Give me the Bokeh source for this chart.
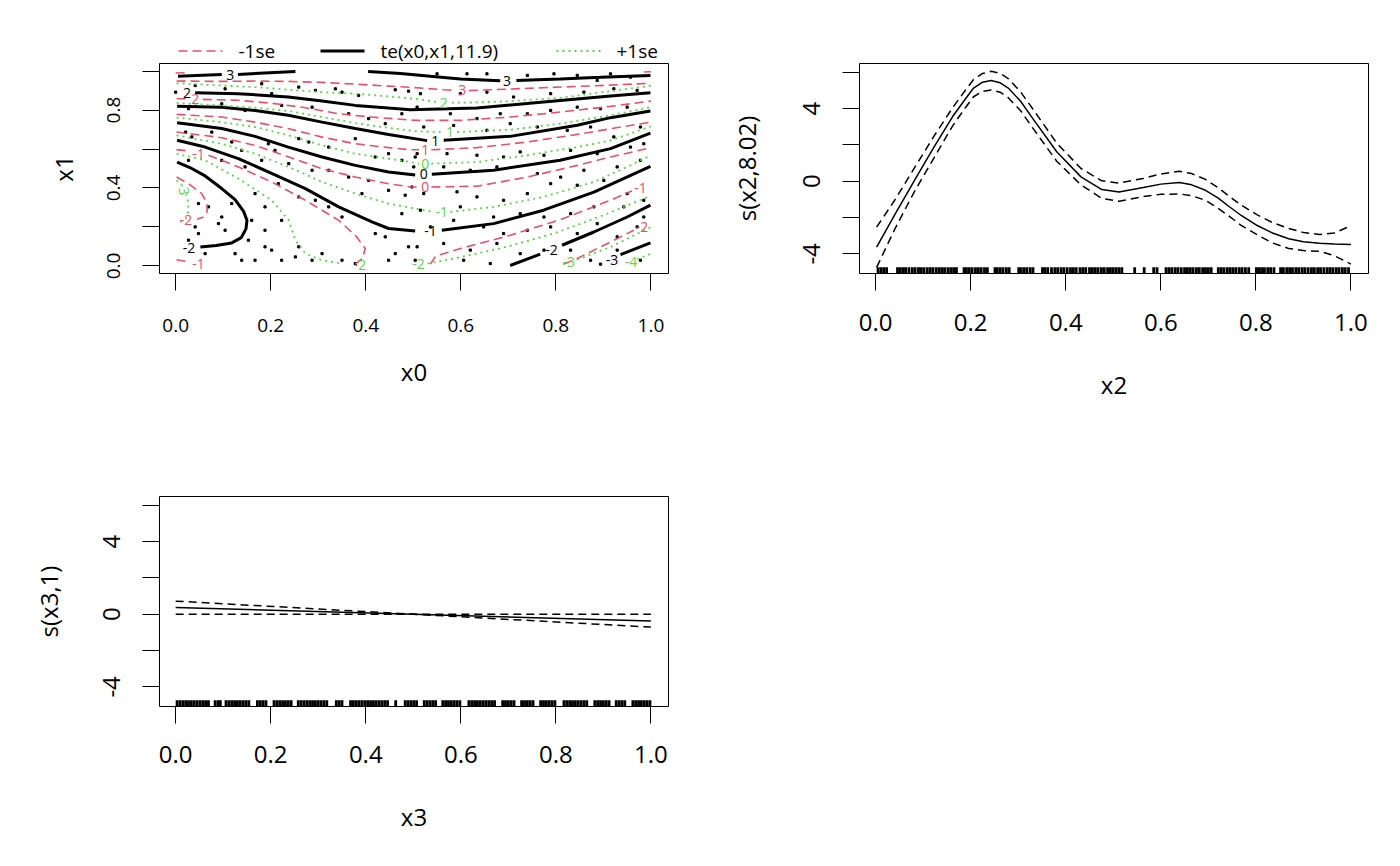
from bokeh.plotting import figure
from bokeh.models import Range1d, FixedTicker
from bokeh.layouts import column, row
from bokeh.embed import file_html
from bokeh.resources import INLINE
from bokeh.core.properties import value

FONT = "Open Sans"
RED = "#DF536B"
GREEN = "#61D04F"

# ---- panel 1: te(x0,x1) contours ----
# fitted surface (black, solid)
te_3a_x = [0.005, 0.097]
te_3a_y = [0.973, 0.982]
te_3b_x = [0.131, 0.252]
te_3b_y = [0.983, 0.998]
te_3c_x = [0.405, 0.473, 0.536, 0.599, 0.683]
te_3c_y = [0.998, 0.988, 0.973, 0.960, 0.950]
te_3d_x = [0.717, 0.809, 0.894, 0.999]
te_3d_y = [0.952, 0.960, 0.968, 0.978]
te_2_x = [0.041, 0.132, 0.237, 0.308, 0.378, 0.448, 0.494, 0.634, 0.774, 0.915, 0.999]
te_2_y = [0.889, 0.884, 0.867, 0.846, 0.824, 0.810, 0.802, 0.810, 0.841, 0.872, 0.889]
te_1a_x = [0.003, 0.097, 0.167, 0.237, 0.308, 0.378, 0.448, 0.529]
te_1a_y = [0.819, 0.815, 0.798, 0.773, 0.738, 0.705, 0.675, 0.643]
te_1b_x = [0.564, 0.704, 0.845, 0.915, 0.999]
te_1b_y = [0.645, 0.665, 0.722, 0.761, 0.795]
te_0a_x = [0.003, 0.097, 0.167, 0.237, 0.308, 0.378, 0.448, 0.504]
te_0a_y = [0.735, 0.705, 0.665, 0.610, 0.559, 0.516, 0.482, 0.467]
te_0b_x = [0.539, 0.669, 0.809, 0.915, 0.999]
te_0b_y = [0.470, 0.491, 0.542, 0.602, 0.682]
te_m1a_x = [0.003, 0.062, 0.132, 0.203, 0.273, 0.343, 0.413, 0.448, 0.504]
te_m1a_y = [0.645, 0.610, 0.551, 0.474, 0.397, 0.303, 0.226, 0.192, 0.179]
te_m1b_x = [0.560, 0.669, 0.774, 0.880, 0.999]
te_m1b_y = [0.183, 0.217, 0.286, 0.379, 0.511]
te_m2a_x = [0.003, 0.030, 0.060, 0.097, 0.125, 0.143, 0.150, 0.148, 0.138, 0.118, 0.085, 0.052]
te_m2a_y = [0.533, 0.505, 0.465, 0.397, 0.340, 0.280, 0.234, 0.190, 0.145, 0.118, 0.105, 0.097]
te_m2b_x = [0.704, 0.767]
te_m2b_y = [0.002, 0.060]
te_m2c_x = [0.813, 0.880, 0.950, 0.999]
te_m2c_y = [0.106, 0.174, 0.251, 0.312]
te_m3_x = [0.936, 0.999]
te_m3_y = [0.058, 0.118]
te_lab_x = [0.115, 0.697, 0.024, 0.546, 0.522, 0.536, 0.028, 0.791, 0.918]
te_lab_y = [0.978, 0.949, 0.889, 0.643, 0.470, 0.179, 0.091, 0.080, 0.029]
te_lab_t = ["3", "3", "2", "1", "0", "-1", "-2", "-2", "-3"]

# -1se surface (red, dashed)
lo_4a_x = [0.0, 0.025]
lo_4a_y = [0.990, 0.992]
lo_4b_x = [0.985, 1.0]
lo_4b_y = [0.995, 0.997]
lo_3a_x = [0.002, 0.097, 0.167, 0.238, 0.308, 0.378, 0.448, 0.504, 0.564, 0.590]
lo_3a_y = [0.949, 0.947, 0.949, 0.947, 0.942, 0.933, 0.923, 0.915, 0.904, 0.901]
lo_3b_x = [0.617, 0.704, 0.810, 0.915, 1.0]
lo_3b_y = [0.900, 0.908, 0.918, 0.928, 0.938]
lo_2a_x = [0.002, 0.025]
lo_2a_y = [0.858, 0.858]
lo_2b_x = [0.057, 0.132, 0.202, 0.273, 0.343, 0.413, 0.504, 0.599, 0.704, 0.810, 0.915, 1.0]
lo_2b_y = [0.855, 0.850, 0.835, 0.812, 0.781, 0.764, 0.747, 0.747, 0.764, 0.790, 0.819, 0.846]
lo_1a_x = [0.002, 0.097, 0.167, 0.238, 0.308, 0.378, 0.448, 0.494, 0.512]
lo_1a_y = [0.778, 0.764, 0.738, 0.704, 0.661, 0.627, 0.607, 0.596, 0.596]
lo_1b_x = [0.538, 0.634, 0.740, 0.845, 0.915, 1.0]
lo_1b_y = [0.596, 0.607, 0.636, 0.675, 0.704, 0.738]
lo_0a_x = [0.002, 0.097, 0.167, 0.238, 0.308, 0.378, 0.448, 0.494, 0.512]
lo_0a_y = [0.687, 0.658, 0.619, 0.559, 0.499, 0.456, 0.422, 0.405, 0.405]
lo_0b_x = [0.538, 0.634, 0.740, 0.845, 0.915, 1.0]
lo_0b_y = [0.405, 0.409, 0.456, 0.516, 0.559, 0.607]
lo_m1a_x = [0.002, 0.027]
lo_m1a_y = [0.597, 0.590]
lo_m1b_x = [0.069, 0.132, 0.202, 0.273, 0.343, 0.378, 0.399, 0.393, 0.378]
lo_m1b_y = [0.568, 0.508, 0.431, 0.337, 0.234, 0.157, 0.089, 0.038, 0.009]
lo_m1c_x = [0.536, 0.547, 0.599, 0.704, 0.810, 0.915, 0.960]
lo_m1c_y = [0.009, 0.050, 0.089, 0.157, 0.238, 0.337, 0.385]
lo_m1d_x = [0.002, 0.027]
lo_m1d_y = [0.032, 0.021]
lo_m2a_x = [0.002, 0.027, 0.055, 0.066, 0.066, 0.059, 0.045]
lo_m2a_y = [0.456, 0.422, 0.371, 0.320, 0.277, 0.251, 0.240]
lo_m2b_x = [0.816, 0.845, 0.915, 0.964]
lo_m2b_y = [0.009, 0.038, 0.123, 0.183]
lo_lab_x = [0.603, 0.041, 0.525, 0.525, 0.048, 0.978, 0.022, 0.981, 0.048]
lo_lab_y = [0.901, 0.855, 0.596, 0.405, 0.576, 0.400, 0.238, 0.200, 0.012]
lo_lab_t = ["3", "2", "1", "0", "-1", "-1", "-2", "-2", "-1"]

# +1se surface (green, dotted)
hi_2a_x = [0.002, 0.097, 0.167, 0.238, 0.308, 0.378, 0.448, 0.504, 0.550]
hi_2a_y = [0.938, 0.926, 0.918, 0.904, 0.892, 0.884, 0.870, 0.858, 0.841]
hi_2b_x = [0.581, 0.634, 0.704, 0.810, 0.915, 1.0]
hi_2b_y = [0.838, 0.839, 0.846, 0.863, 0.897, 0.925]
hi_1a_x = [0.002, 0.097, 0.167, 0.238, 0.308, 0.378, 0.448, 0.504, 0.564]
hi_1a_y = [0.836, 0.824, 0.812, 0.795, 0.764, 0.733, 0.708, 0.692, 0.687]
hi_1b_x = [0.592, 0.704, 0.810, 0.915, 1.0]
hi_1b_y = [0.687, 0.699, 0.730, 0.773, 0.815]
hi_0a_x = [0.002, 0.097, 0.167, 0.238, 0.308, 0.378, 0.448, 0.494, 0.512]
hi_0a_y = [0.761, 0.738, 0.713, 0.670, 0.619, 0.576, 0.550, 0.533, 0.525]
hi_0b_x = [0.538, 0.634, 0.740, 0.845, 0.915, 1.0]
hi_0b_y = [0.525, 0.533, 0.568, 0.610, 0.644, 0.716]
hi_m1a_x = [0.002, 0.097, 0.167, 0.238, 0.308, 0.378, 0.448, 0.504, 0.543]
hi_m1a_y = [0.670, 0.627, 0.576, 0.508, 0.431, 0.371, 0.320, 0.294, 0.277]
hi_m1b_x = [0.578, 0.669, 0.774, 0.880, 0.950, 1.0]
hi_m1b_y = [0.277, 0.303, 0.354, 0.431, 0.508, 0.568]
hi_m2a_x = [0.002, 0.062, 0.132, 0.202, 0.238, 0.252, 0.273, 0.308, 0.350]
hi_m2a_y = [0.576, 0.542, 0.448, 0.337, 0.234, 0.132, 0.063, 0.029, 0.012]
hi_m2b_x = [0.530, 0.600, 0.700, 0.800, 0.900, 1.0]
hi_m2b_y = [0.012, 0.045, 0.100, 0.170, 0.260, 0.360]
hi_m3a_x = [0.002, 0.012]
hi_m3a_y = [0.440, 0.415]
hi_m3b_x = [0.022, 0.026, 0.027, 0.022, 0.010, 0.002]
hi_m3b_y = [0.370, 0.330, 0.280, 0.245, 0.225, 0.220]
hi_m3c_x = [0.845, 0.915, 1.0]
hi_m3c_y = [0.032, 0.097, 0.200]
hi_m4_x = [0.971, 1.0]
hi_m4_y = [0.034, 0.063]
hi_lab_x = [0.564, 0.577, 0.525, 0.560, 0.388, 0.511, 0.827, 0.958]
hi_lab_y = [0.838, 0.687, 0.525, 0.277, 0.005, 0.009, 0.020, 0.020]
hi_lab_t = ["2", "1", "0", "-1", "-2", "-2", "-3", "-4"]
hi_rot_x = [0.017]
hi_rot_y = [0.395]
hi_rot_t = ["-3"]

# observed (x0, x1) covariate locations
obs_x0 = [0.041, 0.104, 0.181, 0.202, 0.259, 0.294, 0.336, 0.350, 0.385, 0.462, 0.490,
          0.027, 0.097, 0.146, 0.223, 0.287, 0.364, 0.406, 0.441, 0.476, 0.021, 0.034,
          0.076, 0.118, 0.139, 0.195, 0.209, 0.259, 0.280, 0.322, 0.378, 0.420, 0.448,
          0.476, 0.504, 0.027, 0.097, 0.146, 0.181, 0.238, 0.287, 0.322, 0.364, 0.406,
          0.448, 0.483, 0.497, 0.048, 0.069, 0.097, 0.118, 0.167, 0.188, 0.223, 0.216,
          0.259, 0.294, 0.322, 0.350, 0.392, 0.420, 0.441, 0.462, 0.476, 0.041, 0.048,
          0.090, 0.104, 0.153, 0.188, 0.202, 0.125, 0.139, 0.167, 0.223, 0.252, 0.259,
          0.287, 0.308, 0.350, 0.378, 0.448, 0.490, 0.504, 0.062, 0.027, 0.160, 0.188,
          0.0,
          0.550, 0.613, 0.655, 0.740, 0.796, 0.845, 0.887, 0.915, 0.957, 0.515, 0.599,
          0.655, 0.711, 0.789, 0.859, 0.922, 0.971, 0.508, 0.578, 0.634, 0.683, 0.740,
          0.789, 0.845, 0.894, 0.950, 0.978, 0.522, 0.585, 0.655, 0.704, 0.761, 0.824,
          0.873, 0.922, 0.985, 0.508, 0.571, 0.634, 0.690, 0.725, 0.775, 0.831, 0.887,
          0.957, 0.978, 0.501, 0.564, 0.620, 0.676, 0.761, 0.810, 0.859, 0.929, 0.522,
          0.592, 0.634, 0.690, 0.740, 0.789, 0.845, 0.901, 0.950, 0.985, 0.515, 0.599,
          0.669, 0.725, 0.775, 0.831, 0.880, 0.943, 0.985, 0.536, 0.585, 0.648, 0.690,
          0.740, 0.789, 0.845, 0.887, 0.929, 0.971, 0.508, 0.564, 0.620, 0.676, 0.725,
          0.775, 0.831, 0.873, 0.894, 0.929, 0.978, 0.606, 0.662]
obs_x1 = [0.926, 0.909, 0.935, 0.884, 0.918, 0.901, 0.909, 0.892, 0.875, 0.904, 0.897,
          0.807, 0.832, 0.798, 0.824, 0.815, 0.781, 0.756, 0.730, 0.781, 0.687, 0.662,
          0.687, 0.636, 0.593, 0.627, 0.593, 0.653, 0.636, 0.610, 0.653, 0.559, 0.576,
          0.542, 0.559, 0.542, 0.542, 0.508, 0.542, 0.525, 0.491, 0.491, 0.456, 0.439,
          0.388, 0.363, 0.405, 0.320, 0.303, 0.251, 0.320, 0.371, 0.303, 0.234, 0.422,
          0.354, 0.337, 0.303, 0.251, 0.371, 0.166, 0.149, 0.063, 0.268, 0.200, 0.166,
          0.217, 0.183, 0.132, 0.098, 0.081, 0.063, 0.029, 0.029, 0.029, 0.046, 0.098,
          0.029, 0.063, 0.029, 0.012, 0.029, 0.098, 0.029, 0.063, 0.132, 0.234, 0.183,
          0.892,
          0.986, 0.986, 0.986, 0.978, 0.986, 0.978, 0.952, 0.986, 0.969, 0.884, 0.884,
          0.892, 0.867, 0.884, 0.892, 0.909, 0.901, 0.815, 0.781, 0.756, 0.781, 0.781,
          0.798, 0.815, 0.807, 0.815, 0.713, 0.713, 0.721, 0.696, 0.730, 0.713, 0.696,
          0.713, 0.662, 0.627, 0.576, 0.576, 0.568, 0.559, 0.585, 0.568, 0.593, 0.576,
          0.610, 0.542, 0.508, 0.508, 0.491, 0.508, 0.474, 0.456, 0.491, 0.508, 0.371,
          0.380, 0.354, 0.337, 0.371, 0.422, 0.414, 0.439, 0.371, 0.337, 0.286, 0.303,
          0.251, 0.268, 0.251, 0.268, 0.303, 0.303, 0.251, 0.200, 0.234, 0.200, 0.166,
          0.183, 0.200, 0.166, 0.217, 0.149, 0.200, 0.098, 0.115, 0.081, 0.115, 0.063,
          0.081, 0.081, 0.029, 0.009, 0.081, 0.029, 0.029, 0.012]

# ---- panel 2: s(x2, 8.02) ----
x2_grid = [0.002, 0.040, 0.082, 0.122, 0.162, 0.188, 0.206, 0.225, 0.243, 0.262, 0.279,
           0.305, 0.330, 0.381, 0.432, 0.476, 0.512, 0.563, 0.600, 0.639, 0.665, 0.694,
           0.720, 0.745, 0.770, 0.803, 0.835, 0.869, 0.900, 0.934, 0.965, 1.0]
s2_fit = [-3.63, -1.85, 0.06, 1.85, 3.56, 4.50, 5.13, 5.45, 5.54, 5.42, 5.13,
          4.40, 3.47, 1.62, 0.24, -0.46, -0.59, -0.35, -0.16, -0.07, -0.20, -0.50,
          -0.92, -1.42, -1.90, -2.44, -2.85, -3.17, -3.33, -3.41, -3.46, -3.49]
s2_upper = [-2.53, -1.05, 0.75, 2.45, 4.05, 4.98, 5.60, 5.93, 6.05, 5.93, 5.65,
            4.92, 4.00, 2.10, 0.70, 0.02, -0.10, 0.15, 0.40, 0.55, 0.42, 0.10,
            -0.35, -0.85, -1.33, -1.85, -2.28, -2.60, -2.82, -2.93, -2.85, -2.45]
s2_lower = [-4.74, -2.65, -0.55, 1.25, 3.05, 4.02, 4.65, 4.95, 5.02, 4.90, 4.60,
            3.88, 2.95, 1.10, -0.20, -0.95, -1.10, -0.85, -0.72, -0.70, -0.80, -1.05,
            -1.48, -1.95, -2.45, -2.95, -3.40, -3.70, -3.82, -3.86, -4.10, -4.56]
x2_rug = [0.005, 0.011, 0.017, 0.023, 0.046, 0.052, 0.058, 0.063, 0.070, 0.077, 0.083,
          0.090, 0.095, 0.101, 0.108, 0.114, 0.120, 0.127, 0.133, 0.139, 0.145, 0.152,
          0.158, 0.164, 0.170, 0.186, 0.191, 0.197, 0.203, 0.210, 0.216, 0.222, 0.229,
          0.235, 0.251, 0.256, 0.262, 0.268, 0.275, 0.281, 0.301, 0.306, 0.312, 0.318,
          0.325, 0.331, 0.351, 0.356, 0.362, 0.370, 0.377, 0.383, 0.390, 0.396, 0.403,
          0.410, 0.416, 0.422, 0.430, 0.436, 0.442, 0.450, 0.456, 0.462, 0.468, 0.475,
          0.481, 0.488, 0.494, 0.500, 0.506, 0.512, 0.518, 0.545, 0.565, 0.585, 0.592,
          0.611, 0.617, 0.623, 0.630, 0.636, 0.643, 0.650, 0.656, 0.662, 0.668, 0.675,
          0.681, 0.688, 0.694, 0.700, 0.706, 0.721, 0.727, 0.733, 0.740, 0.746, 0.752,
          0.758, 0.765, 0.771, 0.778, 0.785, 0.801, 0.806, 0.812, 0.818, 0.825, 0.831,
          0.838, 0.852, 0.858, 0.865, 0.871, 0.877, 0.884, 0.890, 0.897, 0.903, 0.910,
          0.917, 0.923, 0.930, 0.936, 0.943, 0.950, 0.956, 0.962, 0.969, 0.975, 0.982,
          0.988, 0.995]

# ---- panel 3: s(x3, 1) ----
x3_grid = [0.0, 0.5, 1.0]
s3_fit = [0.37, 0.0, -0.37]
s3_upper = [0.72, 0.0, 0.0]
s3_lower = [0.0, 0.0, -0.71]
x3_rug = [0.003, 0.009, 0.015, 0.021, 0.027, 0.033, 0.039, 0.045, 0.051, 0.057, 0.063,
          0.069, 0.083, 0.089, 0.094, 0.106, 0.112, 0.118, 0.124, 0.130, 0.136, 0.142,
          0.148, 0.154, 0.172, 0.178, 0.184, 0.190, 0.207, 0.213, 0.219, 0.225, 0.231,
          0.237, 0.243, 0.258, 0.264, 0.270, 0.276, 0.282, 0.288, 0.294, 0.300, 0.306,
          0.312, 0.318, 0.338, 0.344, 0.350, 0.368, 0.374, 0.380, 0.386, 0.392, 0.398,
          0.404, 0.410, 0.416, 0.422, 0.428, 0.434, 0.440, 0.446, 0.463, 0.483, 0.489,
          0.495, 0.501, 0.507, 0.523, 0.529, 0.535, 0.541, 0.547, 0.562, 0.568, 0.574,
          0.580, 0.586, 0.592, 0.598, 0.617, 0.623, 0.629, 0.635, 0.641, 0.647, 0.653,
          0.659, 0.665, 0.671, 0.688, 0.694, 0.700, 0.706, 0.712, 0.728, 0.734, 0.740,
          0.746, 0.752, 0.768, 0.774, 0.780, 0.786, 0.792, 0.798, 0.817, 0.823, 0.829,
          0.835, 0.841, 0.847, 0.853, 0.859, 0.865, 0.882, 0.888, 0.894, 0.900, 0.906,
          0.912, 0.927, 0.933, 0.939, 0.945, 0.962, 0.968, 0.974, 0.980, 0.986, 0.992,
          0.998]

unit_ticks = [0.0, 0.2, 0.4, 0.6, 0.8, 1.0]
unit_x_labels = ["0.0", "0.2", "0.4", "0.6", "0.8", "1.0"]
unit_y_labels = ["0.0", "", "0.4", "", "0.8", ""]
s_ticks = [-4, -2, 0, 2, 4, 6]
s_labels = ["-4", "", "0", "", "4", ""]
legend_labels = ["-1se", "te(x0,x1,11.9)", "+1se"]

X_LO, X_HI = -0.034, 1.037
S_LO, S_HI = -5.08, 6.48


def make_fig(height, left, right, top, bottom, y_lo, y_hi):
    p = figure(width=692, height=height, title=None, output_backend="svg",
               toolbar_location=None, x_range=Range1d(X_LO, X_HI),
               y_range=Range1d(y_lo, y_hi),
               min_border_left=left, min_border_right=right,
               min_border_top=top, min_border_bottom=bottom)
    p.grid.visible = False
    p.outline_line_color = "black"
    p.outline_line_width = 1
    p.outline_line_alpha = 1
    return p


def style_axis(ax, ticks, labels, tick_size, title, label_standoff, title_standoff):
    ax.ticker = FixedTicker(ticks=ticks)
    ax.major_label_overrides = {t: l for t, l in zip(ticks, labels)}
    ax.minor_tick_line_color = None
    ax.axis_line_color = None
    ax.major_tick_in = 0
    ax.major_tick_out = 17
    ax.major_tick_line_width = 1
    ax.major_tick_line_color = "black"
    ax.major_label_text_font = FONT
    ax.major_label_text_font_size = tick_size
    ax.major_label_text_color = "black"
    ax.major_label_standoff = label_standoff
    ax.axis_label = title
    ax.axis_label_text_font = FONT
    ax.axis_label_text_font_size = "24px"
    ax.axis_label_text_font_style = "normal"
    ax.axis_label_text_color = "black"
    ax.axis_label_standoff = title_standoff


# ---------------- panel 1 ----------------
p1 = make_fig(362, 159, 24, 0, 152, -0.039, 1.039)
style_axis(p1.xaxis[0], unit_ticks, unit_x_labels, "19px", "x0", 28, 20)
style_axis(p1.yaxis[0], unit_ticks, unit_y_labels, "19px", "x1", 22, 25)
p1.yaxis.major_label_orientation = "vertical"

p1.scatter(obs_x0, obs_x1, marker="square", size=2.2, color="black")

te_xs = [te_3a_x, te_3b_x, te_3c_x, te_3d_x, te_2_x, te_1a_x, te_1b_x, te_0a_x, te_0b_x,
         te_m1a_x, te_m1b_x, te_m2a_x, te_m2b_x, te_m2c_x, te_m3_x]
te_ys = [te_3a_y, te_3b_y, te_3c_y, te_3d_y, te_2_y, te_1a_y, te_1b_y, te_0a_y, te_0b_y,
         te_m1a_y, te_m1b_y, te_m2a_y, te_m2b_y, te_m2c_y, te_m3_y]
lo_xs = [lo_4a_x, lo_4b_x, lo_3a_x, lo_3b_x, lo_2a_x, lo_2b_x, lo_1a_x, lo_1b_x, lo_0a_x,
         lo_0b_x, lo_m1a_x, lo_m1b_x, lo_m1c_x, lo_m1d_x, lo_m2a_x, lo_m2b_x]
lo_ys = [lo_4a_y, lo_4b_y, lo_3a_y, lo_3b_y, lo_2a_y, lo_2b_y, lo_1a_y, lo_1b_y, lo_0a_y,
         lo_0b_y, lo_m1a_y, lo_m1b_y, lo_m1c_y, lo_m1d_y, lo_m2a_y, lo_m2b_y]
hi_xs = [hi_2a_x, hi_2b_x, hi_1a_x, hi_1b_x, hi_0a_x, hi_0b_x, hi_m1a_x, hi_m1b_x,
         hi_m2a_x, hi_m2b_x, hi_m3a_x, hi_m3b_x, hi_m3c_x, hi_m4_x]
hi_ys = [hi_2a_y, hi_2b_y, hi_1a_y, hi_1b_y, hi_0a_y, hi_0b_y, hi_m1a_y, hi_m1b_y,
         hi_m2a_y, hi_m2b_y, hi_m3a_y, hi_m3b_y, hi_m3c_y, hi_m4_y]

TE_STYLE = dict(line_color="black", line_width=3)
LO_STYLE = dict(line_color=RED, line_width=1.6, line_dash="9 5")
HI_STYLE = dict(line_color=GREEN, line_width=1.8, line_dash="2 4")
STYLES = [LO_STYLE, TE_STYLE, HI_STYLE]

p1.multi_line(te_xs, te_ys, **TE_STYLE)
p1.multi_line(lo_xs, lo_ys, **LO_STYLE)
p1.multi_line(hi_xs, hi_ys, **HI_STYLE)

lab_kw = dict(text_font=value(FONT), text_font_size="14px", text_align="center",
              text_baseline="middle")
p1.text(te_lab_x, te_lab_y, text=te_lab_t, text_color="black", **lab_kw)
p1.text(lo_lab_x, lo_lab_y, text=lo_lab_t, text_color=RED, **lab_kw)
p1.text(hi_lab_x, hi_lab_y, text=hi_lab_t, text_color=GREEN, **lab_kw)
p1.text(hi_rot_x, hi_rot_y, text=hi_rot_t, text_color=GREEN, angle=-1.4, **lab_kw)

# legend strip above panel 1 (R draws it in the top margin).
# Its frame lines up with panel 1's frame; the ranges are in page pixels.
leg = figure(width=692, height=63, output_backend="svg", toolbar_location=None,
             title=None, x_axis_location=None, y_axis_location=None,
             x_range=Range1d(159, 668), y_range=Range1d(0, 63),
             min_border_left=159, min_border_right=24,
             min_border_top=0, min_border_bottom=0)
leg.grid.visible = False
leg.outline_line_color = None
key_start = [178, 320, 556]
key_len = 44
row_y = 12.5
for x0, lab, st in zip(key_start, legend_labels, STYLES):
    leg.segment(x0=[x0], y0=[row_y], x1=[x0 + key_len], y1=[row_y], **st)
    leg.text(x=[x0 + key_len + 16], y=[row_y], text=[lab], text_font=value(FONT),
             text_font_size="19px", text_align="left", text_baseline="middle",
             text_color="black")

# ---------------- panel 2 ----------------
p2 = make_fig(425, 167, 16, 63, 152, S_LO, S_HI)
style_axis(p2.xaxis[0], unit_ticks, unit_x_labels, "24px", "x2", 23, 34)
style_axis(p2.yaxis[0], s_ticks, s_labels, "24px", "s(x2,8.02)", 22, 38)
p2.yaxis.major_label_orientation = "vertical"
p2.line(x2_grid, s2_fit, line_color="black", line_width=1.5)
p2.line(x2_grid, s2_upper, line_color="black", line_width=1.5, line_dash="8 5")
p2.line(x2_grid, s2_lower, line_color="black", line_width=1.5, line_dash="8 5")
rug_top = S_LO + 0.03 * (S_HI - S_LO)
p2.segment(x0=x2_rug, y0=[S_LO] * len(x2_rug), x1=x2_rug, y1=[rug_top] * len(x2_rug),
           line_color="black", line_width=2.8)

# ---------------- panel 3 ----------------
p3 = make_fig(425, 159, 24, 71, 144, S_LO, S_HI)
style_axis(p3.xaxis[0], unit_ticks, unit_x_labels, "24px", "x3", 22, 34)
style_axis(p3.yaxis[0], s_ticks, s_labels, "24px", "s(x3,1)", 22, 36)
p3.yaxis.major_label_orientation = "vertical"
p3.line(x3_grid, s3_fit, line_color="black", line_width=1.5)
p3.line(x3_grid, s3_upper, line_color="black", line_width=1.5, line_dash="8 5")
p3.line(x3_grid, s3_lower, line_color="black", line_width=1.5, line_dash="8 5")
p3.segment(x0=x3_rug, y0=[S_LO] * len(x3_rug), x1=x3_rug, y1=[rug_top] * len(x3_rug),
           line_color="black", line_width=2.8)

layout = column(row(column(leg, p1), p2), p3)
open("out.html", "w").write(file_html(layout, INLINE))
